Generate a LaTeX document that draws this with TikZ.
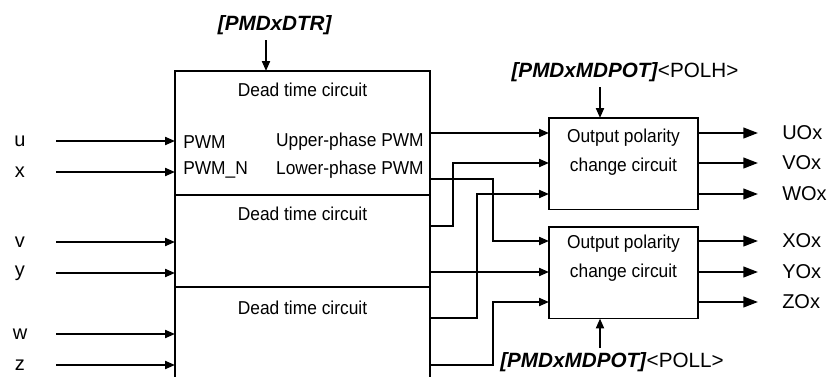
\documentclass[tikz,border=0pt]{standalone}
\usepackage{fontspec}
\setmainfont{Liberation Sans}
\newfontfamily\boxfont[FakeStretch=0.93]{Liberation Sans}
\usetikzlibrary{positioning, arrows.meta}

\begin{document}
\begin{tikzpicture}[
        x=0.75pt, y=-0.75pt,
        dtbox/.style={
            rectangle,
            draw,
            line width=1.1pt,
            inner sep=0pt,
            outer sep=0pt,
            minimum width=191.25pt
        },
        polbox/.style={
            rectangle,
            draw,
            line width=1.1pt,
            inner sep=0pt,
            outer sep=0pt,
            minimum width=111.75pt,
            minimum height=68.6pt,
            anchor=north west
        },
        intxt/.style={
            inner sep=0pt,
            font=\boxfont\fontsize{14}{21.75}\selectfont
        },
        pin/.style={
            inner sep=0pt,
            font=\fontsize{15}{18}\selectfont
        },
        reg/.style={
            inner sep=0pt,
            font=\fontsize{15.5}{18}\selectfont
        },
        sig/.style={
            -{Triangle[length=7.5pt, width=6pt]},
            line width=1.5pt
        },
        outsig/.style={
            -{Triangle[length=11pt, width=8pt]},
            line width=1.5pt
        }
    ]

        \useasboundingbox (0,0) rectangle (829,376);
        \clip (0,0) rectangle (829,376);

        % dead time block (cut off at the bottom)
        \node[dtbox, minimum height=93pt, anchor=north west] (dt1) at (175,71) {};
        \node[dtbox, minimum height=69pt, below=0pt of dt1] (dt2) {};
        \node[dtbox, minimum height=80pt, below=0pt of dt2] (dt3) {};

        \node[intxt] (dt1t) at (302.5,90) {Dead time circuit};
        \node[intxt] (dt2t) at (302.5,214) {Dead time circuit};
        \node[intxt] (dt3t) at (302.5,308) {Dead time circuit};

        \node[intxt, anchor=west] (pwm) at (183,142) {PWM};
        \node[intxt, anchor=west] (pwmn) at (183,170) {PWM\_N};
        \node[intxt, anchor=east] (upper) at (424,142) {Upper-phase PWM};
        \node[intxt, anchor=east] (lower) at (424,170) {Lower-phase PWM};

        % polarity blocks
        \node[polbox] (opc1) at (549,118) {};
        \node[polbox] (opc2) at (549,227) {};
        \node[intxt, align=center] (opc1t) at (623.5,152.5) {Output polarity\\change circuit};
        \node[intxt, align=center] (opc2t) at (623.5,258) {Output polarity\\change circuit};

        % inputs
        \foreach \lbl/\ypos in {u/141, x/172, v/242, y/273, w/334, z/365} {
            \node[pin] (l\lbl) at (20,\ypos) {\lbl};
            \coordinate (s\lbl) at (56,\ypos);
            \draw[sig] (s\lbl) -- (s\lbl -| dt1.west);
        }

        % outputs
        \foreach \lbl/\ypos in {UOx/133, VOx/163, WOx/194, XOx/241, YOx/272, ZOx/302} {
            \node[pin, anchor=west] (\lbl) at (782,\ypos) {\lbl};
            \coordinate (e\lbl) at (758,\ypos);
            \coordinate (p\lbl) at (549,\ypos);
            \draw[outsig] (e\lbl -| opc1.east) -- (e\lbl);
        }

        % dead time outputs
        \coordinate (upU) at (430,133);
        \coordinate (loU) at (430,179);
        \coordinate (upV) at (430,226);
        \coordinate (loV) at (430,272);
        \coordinate (upW) at (430,318);
        \coordinate (loW) at (430,365);

        \draw[sig] (upU) -- (pUOx);
        \draw[sig] (loU) -- ++(63,0) |- (pXOx);
        \draw[sig] (upV) -- ++(23,0) |- (pVOx);
        \draw[sig] (loV) -- (pYOx);
        \draw[sig] (upW) -- ++(47,0) |- (pWOx);
        \draw[sig] (loW) -- ++(63,0) |- (pZOx);

        % registers
        \node[reg] (dtr) at (275,25) {\textbf{\textit{[PMDxDTR]}}};
        \coordinate (dtrs) at (266,40);
        \draw[sig] (dtrs) -- (dtrs |- dt1.north);

        \node[reg] (polh) at (625,72) {\textbf{\textit{[PMDxMDPOT]}}<POLH>};
        \coordinate (polhs) at (600,87);
        \draw[sig] (polhs) -- (polhs |- opc1.north);

        \node[reg] (poll) at (612,362) {\textbf{\textit{[PMDxMDPOT]}}<POLL>};
        \coordinate (polls) at (600,348);
        \draw[sig] (polls) -- (polls |- opc2.south);

    \end{tikzpicture}
\end{document}
